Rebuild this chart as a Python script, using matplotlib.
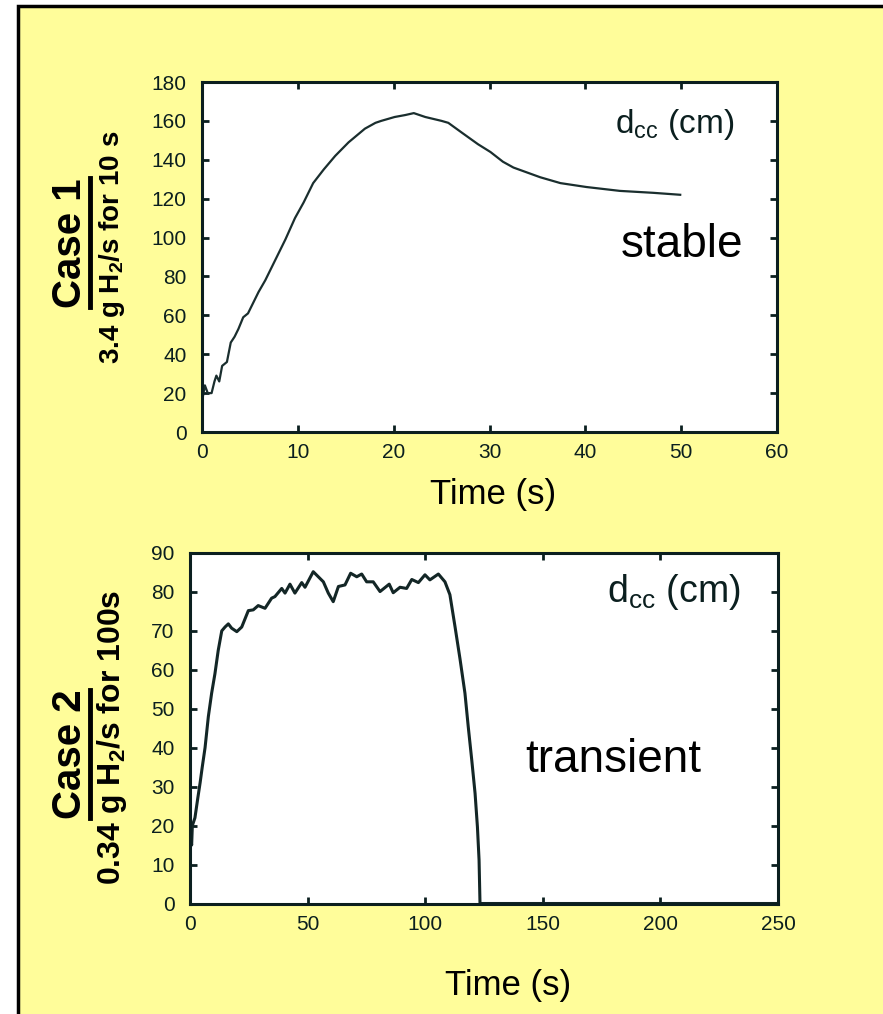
import matplotlib
matplotlib.use("Agg")
import matplotlib.pyplot as plt
from matplotlib.patches import Rectangle
from matplotlib.lines import Line2D

plt.rcParams["font.family"] = ["Liberation Sans", "DejaVu Sans"]
plt.rcParams["mathtext.fontset"] = "custom"
plt.rcParams["mathtext.rm"] = "Liberation Sans"
plt.rcParams["mathtext.bf"] = "Liberation Sans:bold"

# Case 1: d_cc (cm) vs time (s)
case1_t = [0.0, 0.05, 0.3, 0.6, 1.0, 1.3, 1.5, 1.8, 2.1, 2.6, 3.0, 3.4, 3.8, 4.3,
           4.8, 5.9, 6.6, 7.6, 8.7, 9.7, 10.6, 11.6, 12.7, 13.9, 15.3, 17.0,
           18.1, 18.7, 20.1, 21.2, 22.1, 23.3, 25.0, 25.7, 27.1, 28.8, 30.1,
           31.4, 32.5, 35.3, 37.4, 40.1, 43.6, 47.1, 49.9]
case1_d = [1, 17, 24, 20, 20, 26, 29, 26, 34, 36, 46, 49, 53, 59,
           61, 72, 78, 88, 99, 110, 118, 128, 135, 142, 149, 156,
           159, 160, 162, 163, 164, 162, 160, 159, 154, 148, 144,
           139, 136, 131, 128, 126, 124, 123, 122]

# Case 2
case2_t = [0.0, 0.7, 1.0, 2.1, 3.3, 4.3, 5.2, 6.4, 7.8, 9.2, 10.6, 12.0, 13.5,
           14.9, 16.3, 17.7, 19.9, 22.0, 24.8, 26.9, 29.0, 31.9, 34.7, 36.1,
           39.0, 40.4, 42.5, 44.6, 47.5, 48.9, 52.4, 56.7, 58.8, 60.9, 63.1,
           65.9, 68.3, 70.9, 73.0, 75.1, 77.9, 80.8, 84.7, 86.4, 89.3, 92.1,
           94.3, 97.1, 99.9, 102.0, 105.6, 108.4, 110.5, 112.7, 114.8, 116.9,
           118.3, 119.8, 121.2, 122.2, 122.9, 123.3, 250.0]
case2_d = [18, 15, 20, 22, 27, 31, 35, 40, 48, 54, 59, 65, 70,
           71, 71.8, 70.7, 69.8, 71, 75.2, 75.4, 76.5, 75.8, 78.4, 78.8,
           80.9, 79.7, 82, 79.7, 82.4, 81.2, 85.2, 82.6, 79.7, 77.5, 81.4,
           81.8, 84.8, 83.9, 84.6, 82.6, 82.6, 80.1, 82.0, 79.8, 81.2, 80.9,
           83.2, 82.4, 84.4, 83.1, 84.6, 82.6, 79.3, 71.0, 62.8, 54, 45.4,
           36.8, 28.3, 19.7, 11.2, 0.0, 0.0]

W, H = 883, 1014
DARK = "#0b1f1f"
YELLOW = "#fffd9a"


def fx(x):
    return x / W


def fy(y):
    return 1 - y / H


fig = plt.figure(figsize=(W / 100, H / 100), dpi=100, facecolor="white")

# yellow panel with black frame
fig.patches.append(Rectangle((fx(18), fy(1040)), fx(900) - fx(18), fy(6) - fy(1040),
                             transform=fig.transFigure, facecolor=YELLOW,
                             edgecolor="black", linewidth=2.5, zorder=-5))


def style_axes(ax):
    ax.set_facecolor("white")
    for s in ax.spines.values():
        s.set_linewidth(2.2)
        s.set_color(DARK)
    ax.tick_params(direction="in", top=True, right=True, length=5, width=2,
                   color=DARK, labelcolor=DARK, labelsize=15)
    ax.tick_params(axis="x", pad=8)
    ax.tick_params(axis="y", pad=11)


ax1 = fig.add_axes([fx(202), fy(432), fx(777) - fx(202), fy(82) - fy(432)])
ax1.plot(case1_t, case1_d, color="#1a2e2e", linewidth=1.6)
ax1.set_xlim(0, 60)
ax1.set_ylim(0, 180)
ax1.set_xticks(range(0, 61, 10))
ax1.set_yticks(range(0, 181, 20))
style_axes(ax1)

ax2 = fig.add_axes([fx(190), fy(903.5), fx(778) - fx(190), fy(553) - fy(903.5)])
ax2.plot(case2_t, case2_d, color="#132626", linewidth=2.2)
ax2.set_xlim(0, 250)
ax2.set_ylim(0, 90)
ax2.set_xticks(range(0, 251, 50))
ax2.set_yticks(range(0, 91, 10))
style_axes(ax2)

# annotations
fig.text(fx(675), fy(125), r"d$_\mathregular{cc}$ (cm)", fontsize=24, color=DARK,
         ha="center", va="center")
fig.text(fx(682), fy(245), "stable", fontsize=33, color="black",
         ha="center", va="center")
fig.text(fx(674), fy(592), r"d$_\mathregular{cc}$ (cm)", fontsize=27, color=DARK,
         ha="center", va="center")
fig.text(fx(613), fy(760), "transient", fontsize=33, color="black",
         ha="center", va="center")

fig.text(fx(493), fy(495), "Time (s)", fontsize=25, ha="center", va="center")
fig.text(fx(508), fy(985), "Time (s)", fontsize=25, ha="center", va="center")

# y labels: "Case" over a fraction bar
fig.text(fx(70), fy(243), "Case 1", fontsize=29, fontweight="bold",
         rotation=90, ha="center", va="center")
fig.lines.append(Line2D([fx(90), fx(90)], [fy(178), fy(307)], color="black",
                        linewidth=3.5, transform=fig.transFigure))
fig.text(fx(112), fy(247), r"3.4 g H$_\mathbf{2}$/s for 10 s", fontsize=20,
         fontweight="bold", rotation=90, ha="center", va="center")

fig.text(fx(70), fy(754), "Case 2", fontsize=29, fontweight="bold",
         rotation=90, ha="center", va="center")
fig.lines.append(Line2D([fx(90), fx(90)], [fy(690), fy(818)], color="black",
                        linewidth=3.5, transform=fig.transFigure))
fig.text(fx(112), fy(737), r"0.34 g H$_\mathbf{2}$/s for 100s", fontsize=23,
         fontweight="bold", rotation=90, ha="center", va="center")

fig.savefig("out.png", dpi=100, facecolor=fig.get_facecolor())
